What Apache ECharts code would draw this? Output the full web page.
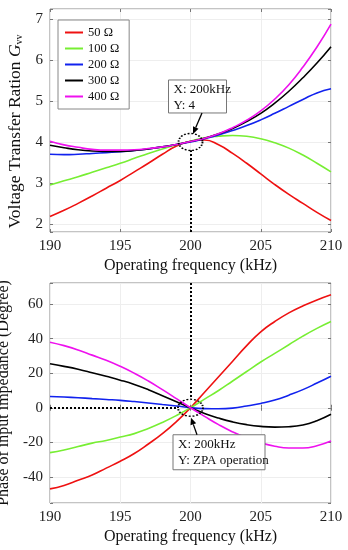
<!DOCTYPE html>
<html><head><meta charset="utf-8">
<script src="https://cdn.jsdelivr.net/npm/echarts@6/dist/echarts.min.js"></script>
<style>html,body{margin:0;padding:0;background:#fff}#c{width:348px;height:550px}</style>
</head><body><div id="c"></div>
<script>
const freq = [190,191,192,193,194,195,196,197,198,199,200,201,202,203,204,205,206,207,208,209,210];
const loads = ['50 Ω','100 Ω','200 Ω','300 Ω','400 Ω'];
const colors = ['#ee1111','#77ee33','#1122ee','#000000','#ee11ee'];

const gain50  = [2.18,2.33,2.50,2.68,2.87,3.06,3.27,3.48,3.70,3.90,4.02,4.05,3.93,3.72,3.48,3.22,2.96,2.72,2.50,2.28,2.08];
const gain100 = [2.95,3.05,3.15,3.26,3.37,3.48,3.60,3.72,3.83,3.93,4.02,4.10,4.14,4.16,4.14,4.08,3.98,3.85,3.68,3.48,3.27];
const gain200 = [3.70,3.69,3.70,3.72,3.74,3.76,3.79,3.83,3.88,3.94,4.00,4.08,4.17,4.28,4.40,4.54,4.70,4.87,5.04,5.20,5.30];
const gain300 = [3.92,3.86,3.81,3.78,3.77,3.77,3.79,3.83,3.88,3.94,4.01,4.09,4.20,4.33,4.50,4.70,4.95,5.24,5.57,5.93,6.33];
const gain400 = [4.02,3.93,3.87,3.82,3.80,3.80,3.81,3.84,3.88,3.94,4.01,4.09,4.20,4.35,4.53,4.76,5.05,5.40,5.83,6.32,6.88];

const phase50  = [-47,-45,-42,-39,-35,-31,-26.5,-21,-15,-8,0,9,18,27,36,44,50,55,59,62.5,65.5];
const phase100 = [-26,-24.5,-22.5,-20.5,-19,-17,-15,-12,-8.5,-4.5,0,5,10,15.5,21,26.5,31.5,36.5,41.5,46,50];
const phase200 = [6.5,6.2,5.8,5.3,4.8,4.3,3.6,2.8,1.9,1,0,-0.5,-0.6,-0.2,1,2.5,4.5,7.3,10.5,14.3,18.3];
const phase300 = [25.5,24,22.3,20.3,18.2,16,13.5,10.5,7,3.5,0,-3.3,-6,-8.2,-9.8,-10.8,-11.2,-11,-10,-7.5,-3.8];
const phase400 = [38,36,33.5,30.5,27.5,24,20,15.5,10.5,5.3,0,-5,-9.8,-14,-17.5,-20.3,-22.3,-23.3,-23.3,-22,-19.3];

const xTicks = [190,195,200,205,210];
const gainTicks = [2,3,4,5,6,7];
const phaseTicks = [-40,-20,0,20,40,60];

const gains = [gain50,gain100,gain200,gain300,gain400];
const phases = [phase50,phase100,phase200,phase300,phase400];

const FONT = 'Liberation Serif';
const chart = echarts.init(document.getElementById('c'), null, {renderer:'canvas'});

function xAx(grid, main, name){
  return {
    gridIndex: grid, type:'value', min:190, max:210, interval:5,
    position: main ? 'bottom' : 'top',
    name: main ? name : '', nameLocation:'middle', nameGap:26,
    nameTextStyle:{fontFamily:FONT, fontSize:16, color:'#111'},
    axisLine:{show:false},
    axisTick:{show:true, inside:true, length:3, lineStyle:{color:'#777'}},
    axisLabel:{show:main, margin:7, fontFamily:FONT, fontSize:15, color:'#222',
      formatter:v=> xTicks.includes(v) ? String(v) : ''},
    splitLine:{show:main, lineStyle:{color:'#eeeeee', width:1}}
  };
}
function yAx(grid, main, min, max, ticks, name, split, fs, gap, pad){
  return {
    gridIndex: grid, type:'value', min:min, max:max, splitNumber:split,
    position: main ? 'left' : 'right',
    name: main ? name : '', nameLocation:'middle', nameGap:gap || 24,
    nameTextStyle:{fontFamily:FONT, fontSize:fs || 16, color:'#111', padding:pad || 0,
      rich:{i:{fontFamily:FONT, fontSize:fs || 16, fontStyle:'italic', color:'#111'},
            s:{fontFamily:FONT, fontSize:10, color:'#111', padding:[7,0,0,0]}}},
    axisLine:{show:false},
    axisTick:{show:true, inside:true, length:3, lineStyle:{color:'#777'}},
    axisLabel:{show:main, margin:7, fontFamily:FONT, fontSize:15, color:'#222',
      formatter:v=> ticks.includes(v) ? String(v) : ''},
    splitLine:{show:main, lineStyle:{color:'#eeeeee', width:1}}
  };
}

const series = [];
loads.forEach((nm,k)=>{
  series.push({
    name:nm, type:'line', xAxisIndex:0, yAxisIndex:0, smooth:true, showSymbol:false,
    data: freq.map((f,i)=>[f, gains[k][i]]),
    lineStyle:{color:colors[k], width:1.6}, itemStyle:{color:colors[k]}, z:2+k
  });
});
loads.forEach((nm,k)=>{
  series.push({
    name:nm, type:'line', xAxisIndex:2, yAxisIndex:2, smooth:true, showSymbol:false,
    data: freq.map((f,i)=>[f, phases[k][i]]),
    lineStyle:{color:colors[k], width:1.6}, itemStyle:{color:colors[k]}, z:2+k
  });
});
const dotted = {type:'dotted', color:'#000', width:2};
series[4].markLine = {silent:true, symbol:'none', label:{show:false}, lineStyle:dotted, z:10,
  data:[[{coord:[200,1.8]},{coord:[200,3.8]}]]};
series[4].markPoint = {silent:true, symbol:'circle', symbolSize:[24,17], label:{show:false}, z:10,
  itemStyle:{color:'rgba(0,0,0,0)', borderColor:'#000', borderWidth:1.6, borderType:'dotted'},
  data:[{coord:[200,4]}]};
series[9].markLine = {silent:true, symbol:'none', label:{show:false}, lineStyle:dotted, z:10,
  data:[[{coord:[200,72.3]},{coord:[200,5.7]}],[{coord:[190,0]},{coord:[199.1,0]}]]};
series[9].markPoint = {silent:true, symbol:'circle', symbolSize:[25,17], label:{show:false}, z:10,
  itemStyle:{color:'rgba(0,0,0,0)', borderColor:'#000', borderWidth:1.6, borderType:'dotted'},
  data:[{coord:[200,0]}]};

chart.setOption({
  animation:false,
  backgroundColor:'#fff',
  grid:[
    {left:50, right:17, top:9, height:223, show:true, borderColor:'#888', borderWidth:1, backgroundColor:'rgba(0,0,0,0)', outerBoundsMode:'none', containLabel:false},
    {left:50, right:17, top:283, height:220, show:true, borderColor:'#888', borderWidth:1, backgroundColor:'rgba(0,0,0,0)', outerBoundsMode:'none', containLabel:false}
  ],
  legend:{
    data:loads, orient:'vertical', left:58, top:20, icon:'rect', itemWidth:18, itemHeight:2, itemGap:3,
    padding:[6,10,6,7], borderColor:'#888', borderWidth:1, backgroundColor:'#fff',
    textStyle:{fontFamily:FONT, fontSize:12.5, color:'#111', padding:[0,0,0,0]}, selectedMode:false
  },
  xAxis:[xAx(0,true,'Operating frequency (kHz)'), xAx(0,false), xAx(1,true,'Operating frequency (kHz)'), xAx(1,false)],
  yAxis:[
    yAx(0,true,1.8,7.25,gainTicks,'Voltage Transfer Ration {i|G}{s|vv}',5,17.5,22,[0,22,0,0]),
    yAx(0,false,1.8,7.25,gainTicks,'',5),
    yAx(1,true,-55.2,72.3,phaseTicks,'Phase of input impedance (Degree)',6,16,23,0),
    yAx(1,false,-55.2,72.3,phaseTicks,'',6)
  ],
  series:series
});

function arrow(x1,y1,x2,y2){
  const dx=x2-x1, dy=y2-y1, L=Math.hypot(dx,dy), ux=dx/L, uy=dy/L;
  const hl=7, hw=3;
  const bx=x2-ux*hl, by=y2-uy*hl;
  return [
    {type:'line', shape:{x1:x1,y1:y1,x2:bx,y2:by}, style:{stroke:'#000', lineWidth:1.3}, z:100},
    {type:'polygon', shape:{points:[[x2,y2],[bx-uy*hw,by+ux*hw],[bx+uy*hw,by-ux*hw]]}, style:{fill:'#000'}, z:100}
  ];
}
function box(x,y,w,h,txt){
  return [
    {type:'rect', shape:{x:x,y:y,width:w,height:h}, style:{fill:'#fff', stroke:'#777', lineWidth:1}, z:100},
    {type:'text', x:x+5, y:y+2, style:{text:txt, font:'13px "Liberation Serif"', fill:'#111', lineHeight:16}, z:101}
  ];
}
const p0 = chart.convertToPixel({gridIndex:0},[200,4]);
const p1 = chart.convertToPixel({gridIndex:1},[200,0]);
const els = [].concat(
  box(p0[0]-22, p0[1]-62, 58, 33, 'X: 200kHz\nY: 4'),
  arrow(p0[0]+11.5, p0[1]-29, p0[0]+2.5, p0[1]-8),
  box(p1[0]-17.5, p1[1]+27, 92, 35, 'X: 200kHz\nY: ZPA operation'),
  arrow(p1[0]+6.5, p1[1]+27, p1[0]+0.5, p1[1]+10)
);
chart.setOption({graphic:{elements:els}});
</script>
</body></html>
